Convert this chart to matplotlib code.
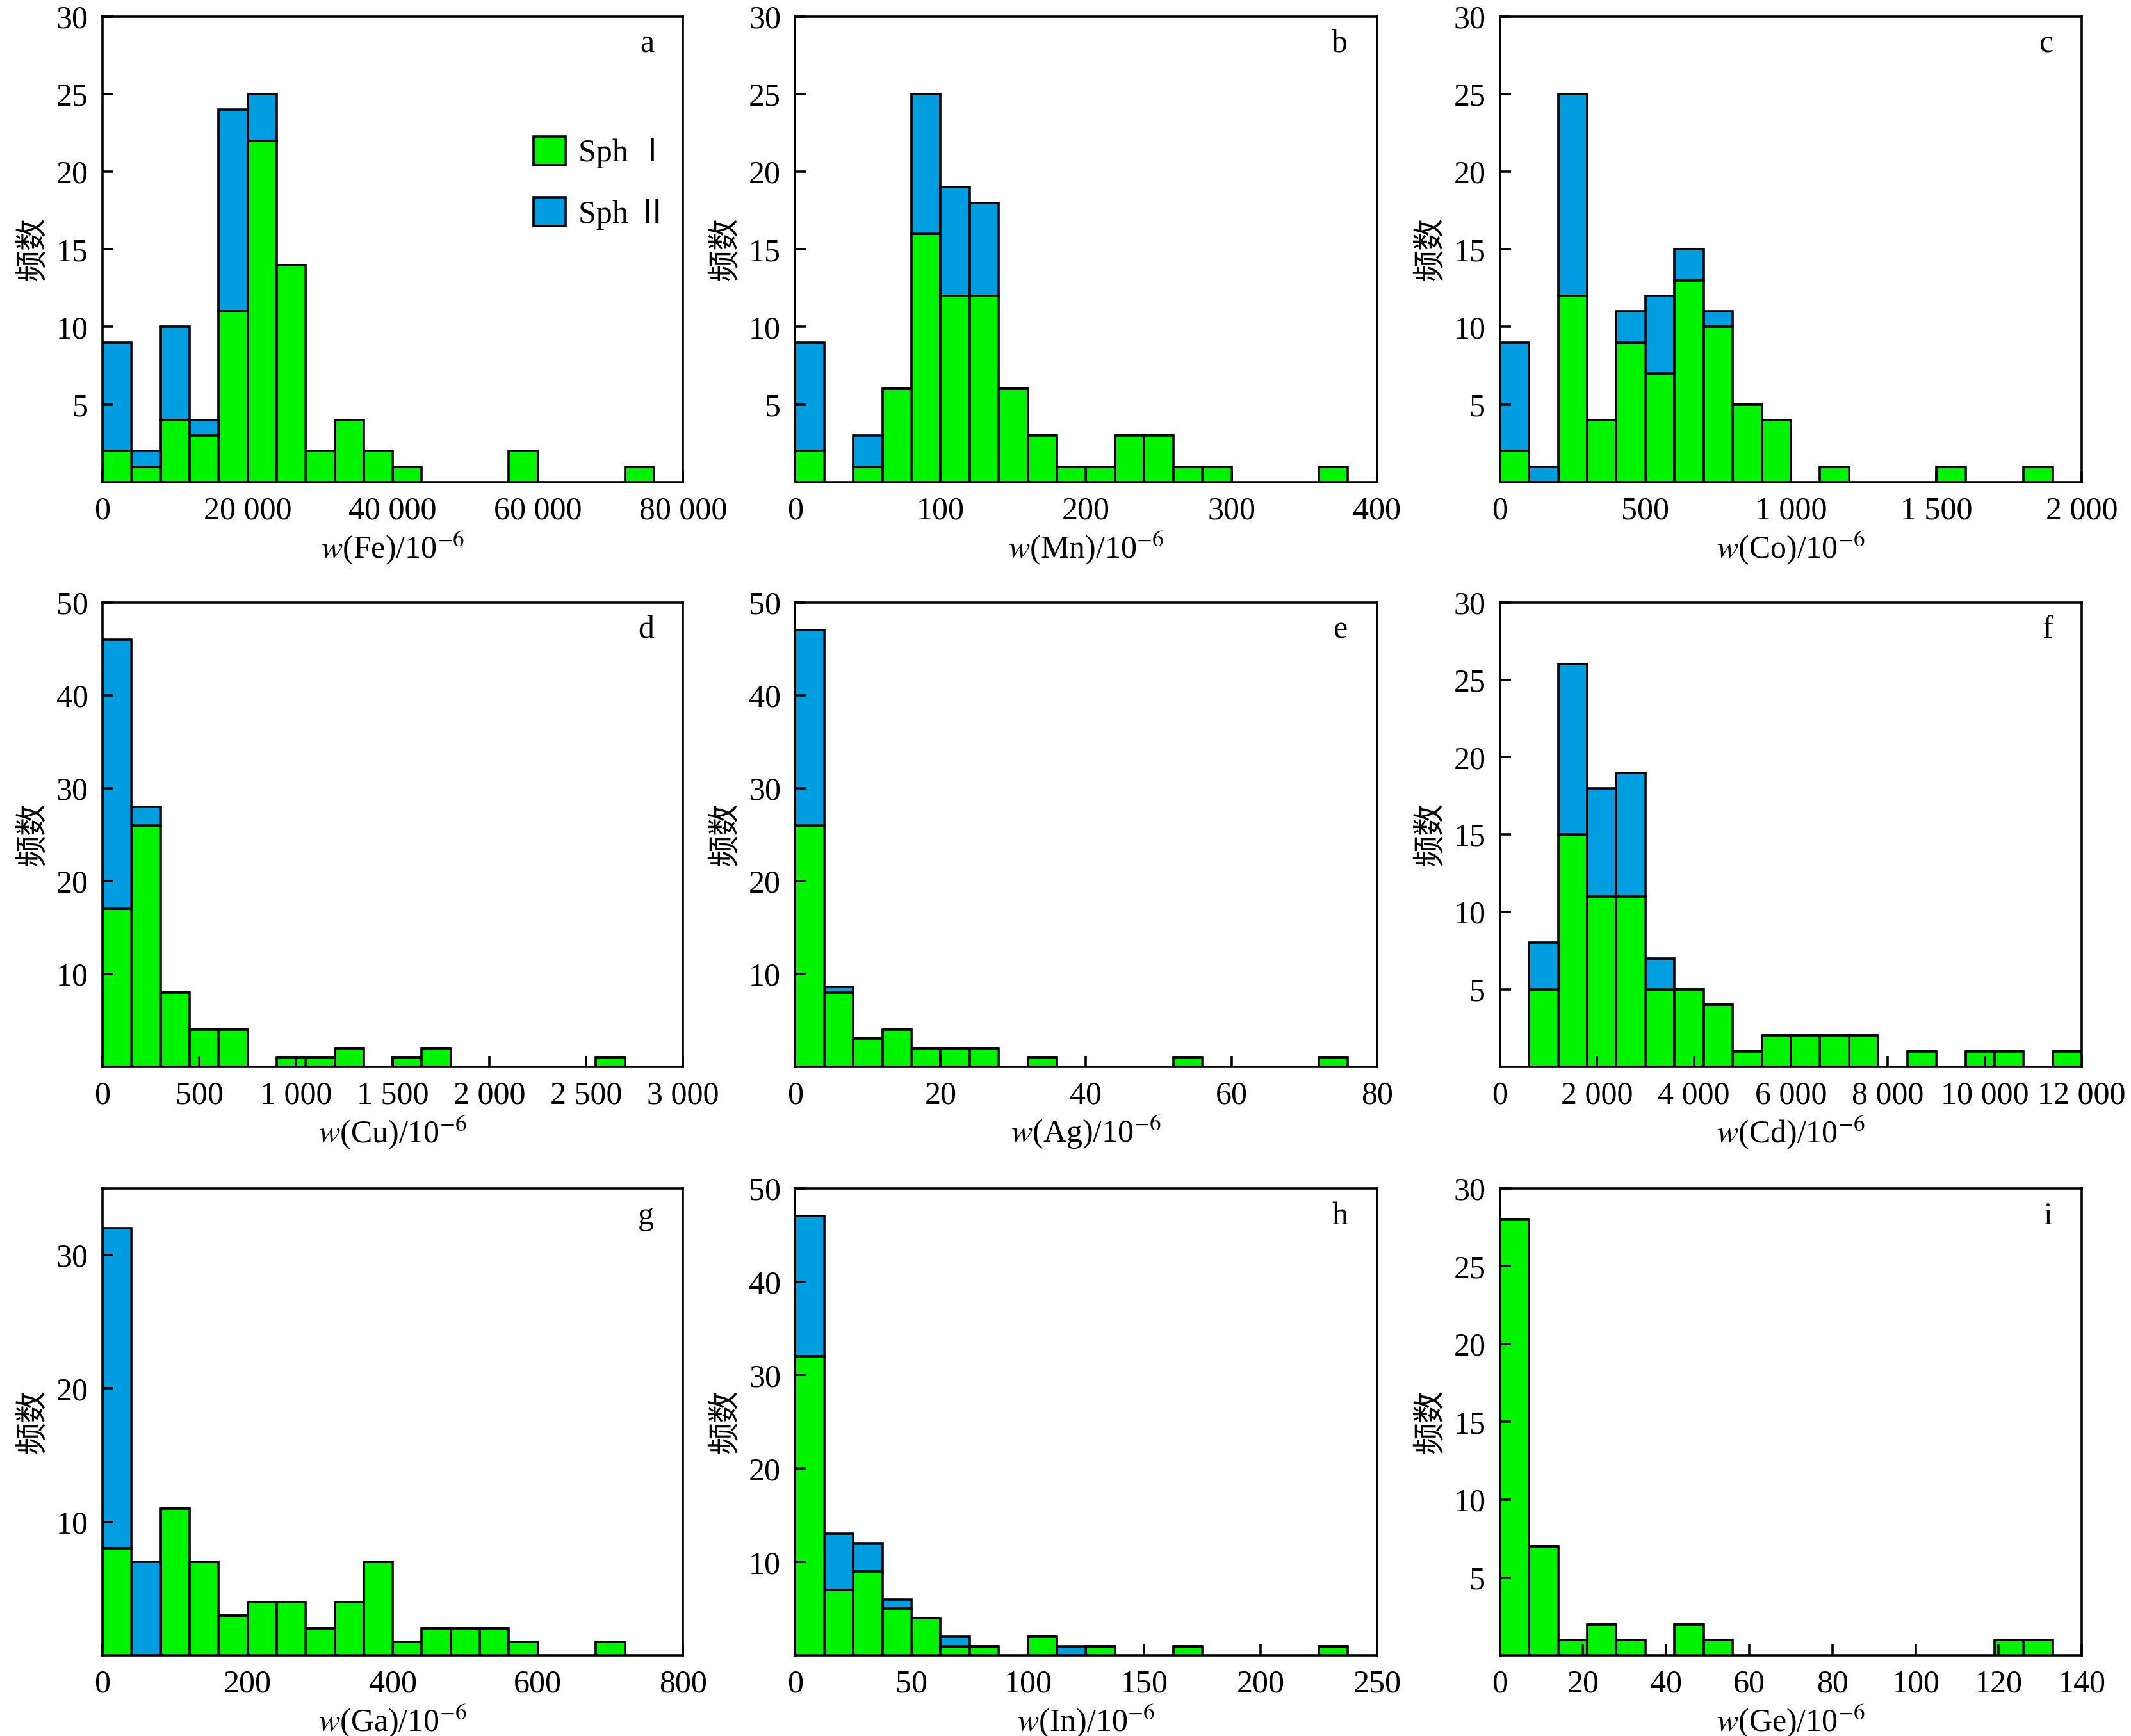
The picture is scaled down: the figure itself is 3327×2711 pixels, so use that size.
import matplotlib
matplotlib.use("Agg")
import matplotlib.pyplot as plt
from matplotlib.ticker import FuncFormatter

plt.rcParams['font.family'] = ['Liberation Serif', 'Noto Sans CJK SC', 'DejaVu Sans']
plt.rcParams['mathtext.fontset'] = 'stix'

GREEN = '#00f400'
BLUE = '#009de0'

# panel data: bin lefts, bin width, Sph I counts, total counts (Sph I + Sph II)
fe_left = [0, 4000, 8000, 12000, 16000, 20000, 24000, 28000, 32000, 36000, 40000, 56000, 72000]
fe_w = 4000
fe_g = [2, 1, 4, 3, 11, 22, 14, 2, 4, 2, 1, 2, 1]
fe_t = [9, 2, 10, 4, 24, 25, 14, 2, 4, 2, 1, 2, 1]

mn_left = [0, 40, 60, 80, 100, 120, 140, 160, 180, 200, 220, 240, 260, 280, 360]
mn_w = 20
mn_g = [2, 1, 6, 16, 12, 12, 6, 3, 1, 1, 3, 3, 1, 1, 1]
mn_t = [9, 3, 6, 25, 19, 18, 6, 3, 1, 1, 3, 3, 1, 1, 1]

co_left = [0, 100, 200, 300, 400, 500, 600, 700, 800, 900, 1100, 1500, 1800]
co_w = 100
co_g = [2, 0, 12, 4, 9, 7, 13, 10, 5, 4, 1, 1, 1]
co_t = [9, 1, 25, 4, 11, 12, 15, 11, 5, 4, 1, 1, 1]

cu_left = [0, 150, 300, 450, 600, 900, 1050, 1200, 1500, 1650, 2550]
cu_w = 150
cu_g = [17, 26, 8, 4, 4, 1, 1, 2, 1, 2, 1]
cu_t = [46, 28, 8, 4, 4, 1, 1, 2, 1, 2, 1]

ag_left = [0, 4, 8, 12, 16, 20, 24, 32, 52, 72]
ag_w = 4
ag_g = [26, 8, 3, 4, 2, 2, 2, 1, 1, 1]
ag_t = [47, 8.6, 3, 4, 2, 2, 2, 1, 1, 1]

cd_left = [600, 1200, 1800, 2400, 3000, 3600, 4200, 4800, 5400, 6000, 6600, 7200, 8400, 9600, 10200, 11400]
cd_w = 600
cd_g = [5, 15, 11, 11, 5, 5, 4, 1, 2, 2, 2, 2, 1, 1, 1, 1]
cd_t = [8, 26, 18, 19, 7, 5, 4, 1, 2, 2, 2, 2, 1, 1, 1, 1]

ga_left = [0, 40, 80, 120, 160, 200, 240, 280, 320, 360, 400, 440, 480, 520, 560, 680]
ga_w = 40
ga_g = [8, 0, 11, 7, 3, 4, 4, 2, 4, 7, 1, 2, 2, 2, 1, 1]
ga_t = [32, 7, 11, 7, 3, 4, 4, 2, 4, 7, 1, 2, 2, 2, 1, 1]

in_left = [0, 12.5, 25, 37.5, 50, 62.5, 75, 100, 112.5, 125, 162.5, 225]
in_w = 12.5
in_g = [32, 7, 9, 5, 4, 1, 1, 2, 0, 1, 1, 1]
in_t = [47, 13, 12, 6, 4, 2, 1, 2, 1, 1, 1, 1]

ge_left = [0, 7, 14, 21, 28, 42, 49, 119, 126]
ge_w = 7
ge_g = [28, 7, 1, 2, 1, 2, 1, 1, 1]
ge_t = [28, 7, 1, 2, 1, 2, 1, 1, 1]

panels = [
    ('a', 'Fe', fe_left, fe_w, fe_g, fe_t, (0, 80000), [0, 20000, 40000, 60000, 80000], (0, 30), [5, 10, 15, 20, 25, 30]),
    ('b', 'Mn', mn_left, mn_w, mn_g, mn_t, (0, 400), [0, 100, 200, 300, 400], (0, 30), [5, 10, 15, 20, 25, 30]),
    ('c', 'Co', co_left, co_w, co_g, co_t, (0, 2000), [0, 500, 1000, 1500, 2000], (0, 30), [5, 10, 15, 20, 25, 30]),
    ('d', 'Cu', cu_left, cu_w, cu_g, cu_t, (0, 3000), [0, 500, 1000, 1500, 2000, 2500, 3000], (0, 50), [10, 20, 30, 40, 50]),
    ('e', 'Ag', ag_left, ag_w, ag_g, ag_t, (0, 80), [0, 20, 40, 60, 80], (0, 50), [10, 20, 30, 40, 50]),
    ('f', 'Cd', cd_left, cd_w, cd_g, cd_t, (0, 12000), [0, 2000, 4000, 6000, 8000, 10000, 12000], (0, 30), [5, 10, 15, 20, 25, 30]),
    ('g', 'Ga', ga_left, ga_w, ga_g, ga_t, (0, 800), [0, 200, 400, 600, 800], (0, 35), [10, 20, 30]),
    ('h', 'In', in_left, in_w, in_g, in_t, (0, 250), [0, 50, 100, 150, 200, 250], (0, 50), [10, 20, 30, 40, 50]),
    ('i', 'Ge', ge_left, ge_w, ge_g, ge_t, (0, 140), [0, 20, 40, 60, 80, 100, 120, 140], (0, 30), [5, 10, 15, 20, 25, 30]),
]

W, H = 1560.0, 1271.0
cols = [(75, 500), (582, 1008), (1098, 1524)]
rows = [(12, 353), (441, 781), (870, 1212)]

def fmt(v, pos):
    v = int(round(v))
    return f"{v:,}".replace(',', ' ')

fig = plt.figure(figsize=(3327 / 200, 2711 / 200), dpi=200)
FS = 18
for idx, (lab, el, left, w, g, t, xl, xt, yl, yt) in enumerate(panels):
    r, c = divmod(idx, 3)
    x0, x1 = cols[c]
    y0, y1 = rows[r]
    ax = fig.add_axes([x0 / W, 1 - y1 / H, (x1 - x0) / W, (y1 - y0) / H])
    blue = [tt - gg for tt, gg in zip(t, g)]
    ax.bar(left, g, width=w, align='edge', color=GREEN, edgecolor='black', linewidth=1.3, label='Sph Ⅰ')
    ax.bar(left, blue, width=w, bottom=g, align='edge', color=BLUE, edgecolor='black', linewidth=1.3, label='Sph Ⅱ')
    ax.set_xlim(*xl)
    ax.set_ylim(*yl)
    ax.set_xticks(xt)
    ax.set_yticks(yt)
    ax.xaxis.set_major_formatter(FuncFormatter(fmt))
    ax.tick_params(direction='in', length=6, width=1.3, labelsize=FS, top=False, right=False, pad=8)
    for s in ax.spines.values():
        s.set_linewidth(1.3)
    ax.set_xlabel(f'$w$({el})/10$^{{-6}}$', fontsize=FS, labelpad=2)
    ax.set_ylabel('频数', fontsize=FS, family=['Noto Sans CJK SC'], labelpad=4)
    ax.text(0.95, 0.94, lab, transform=ax.transAxes, ha='right', va='center', fontsize=FS)
    if lab == 'a':
        ax.legend(loc='upper left', bbox_to_anchor=(0.72, 0.77), frameon=False, fontsize=FS,
                  handlelength=1.0, handleheight=1.0, handletextpad=0.4, labelspacing=0.9,
                  borderaxespad=0)

fig.savefig('out.png', dpi=200)
